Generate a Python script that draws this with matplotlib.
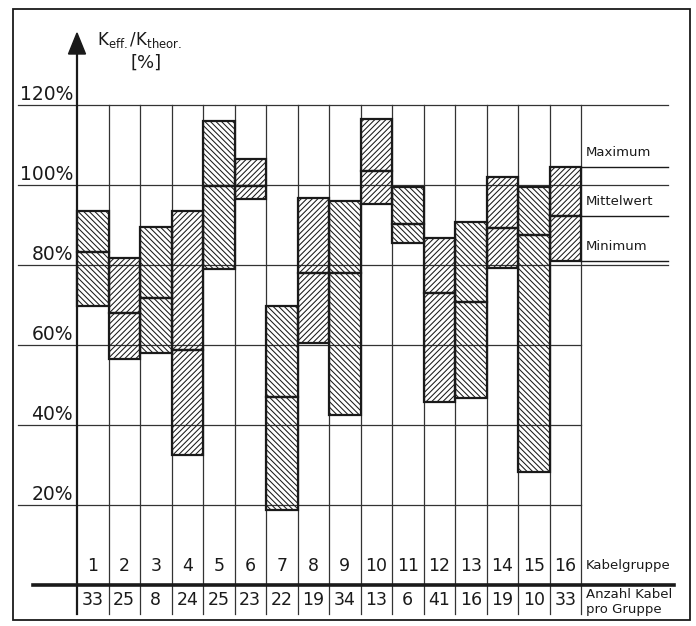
import matplotlib
matplotlib.use("Agg")
import matplotlib.pyplot as plt
from matplotlib.patches import Rectangle, Polygon

groups = [str(i) for i in range(1, 17)]
cables = [33, 25, 8, 24, 25, 23, 22, 19, 34, 13, 6, 41, 16, 19, 10, 33]
maxima = [93.4, 81.7, 89.4, 93.5, 116.0, 106.6, 69.8, 96.7, 96.1, 116.4, 99.6, 86.7, 90.8, 102.1, 99.4, 104.5]
means = [83.3, 67.9, 71.8, 58.8, 99.8, 99.8, 47.0, 77.9, 77.9, 103.6, 90.2, 72.9, 70.8, 89.2, 87.5, 92.3]
minima = [69.8, 56.4, 57.9, 32.5, 79.0, 96.6, 18.8, 60.4, 42.5, 95.2, 85.4, 45.7, 46.8, 79.2, 28.2, 81.0]
yticks = [20, 40, 60, 80, 100, 120]
legend_labels = ["Maximum", "Mittelwert", "Minimum"]

W, H = 696, 626
plt.rcParams['font.family'] = ['DejaVu Sans']
plt.rcParams['hatch.linewidth'] = 0.75
fig = plt.figure(figsize=(W / 100, H / 100), dpi=100)
fig.patch.set_facecolor('white')

# pixel helpers for layout only
X0, X1, Y0, Y1 = 77, 581, 585, 105
ax = fig.add_axes([X0 / W, 1 - Y0 / H, (X1 - X0) / W, (Y0 - Y1) / H])
ax.set_xlim(0, 16)
ax.set_ylim(0, 120)
ax.axis('off')

def px(x):
    return (x - X0) / ((X1 - X0) / 16)

def py(y):
    return (Y0 - y) / ((Y0 - Y1) / 120)

ink = '#1a1a1a'
grid = '#333333'

# outer frame
fig.patches.append(Rectangle((13 / W, 1 - 620 / H), 677 / W, 611 / H, transform=fig.transFigure,
                             fill=False, edgecolor=ink, lw=1.3))

# horizontal gridlines
for v in yticks:
    right = px(668) if v >= 80 else 16
    ax.plot([px(18), right], [v, v], color=grid, lw=0.9, clip_on=False, zorder=1)
    ax.text(px(73), v + 0.3, f"{v}%", ha='right', va='bottom', fontsize=13.5, color=ink)

# vertical column lines
for i in range(1, 17):
    ax.plot([i, i], [py(614), 120], color=grid, lw=0.9, clip_on=False, zorder=1)

# y axis with arrow
ax.plot([0, 0], [py(614), py(52)], color=ink, lw=1.6, clip_on=False, zorder=3)
ax.add_patch(Polygon([[0, py(33)], [px(68.5), py(54)], [px(85.5), py(54)]], closed=True,
                     facecolor=ink, edgecolor=ink, clip_on=False, zorder=3))

# thick base line
ax.plot([px(33), px(674)], [0, 0], color=ink, lw=2.6, clip_on=False, zorder=3)

# bars
for i in range(16):
    h = '\\' * 6 if i % 2 == 0 else '/' * 6
    ax.add_patch(Rectangle((i, minima[i]), 1, means[i] - minima[i], fill=False, hatch=h,
                           edgecolor=ink, lw=1.6, zorder=2, clip_on=False))
    ax.add_patch(Rectangle((i, means[i]), 1, maxima[i] - means[i], fill=False, hatch=h,
                           edgecolor=ink, lw=1.6, zorder=2, clip_on=False))

# legend lines from the last bar
for val, lab in zip([maxima[-1], means[-1], minima[-1]], legend_labels):
    ax.plot([16, px(668)], [val, val], color=ink, lw=1.0, clip_on=False, zorder=1)
    ax.text(px(586), val + 2.0, lab, ha='left', va='bottom', fontsize=9.5, color=ink)

# table rows
for i in range(16):
    ax.text(i + 0.5, py(566), groups[i], ha='center', va='center', fontsize=12.5, color=ink)
    ax.text(i + 0.5, py(600), str(cables[i]), ha='center', va='center', fontsize=12.5, color=ink)
ax.text(px(586), py(566), "Kabelgruppe", ha='left', va='center', fontsize=9.5, color=ink)
ax.text(px(586), py(594), "Anzahl Kabel", ha='left', va='center', fontsize=9.5, color=ink)
ax.text(px(586), py(609), "pro Gruppe", ha='left', va='center', fontsize=9.5, color=ink)

# axis title
ax.text(px(97), py(40), r'$\mathregular{K_{eff.}/K_{theor.}}$', ha='left', va='center',
        fontsize=12, color=ink)
ax.text(px(146), py(63), "[%]", ha='center', va='center', fontsize=13, color=ink)

fig.savefig("out.png", dpi=100, facecolor='white')
